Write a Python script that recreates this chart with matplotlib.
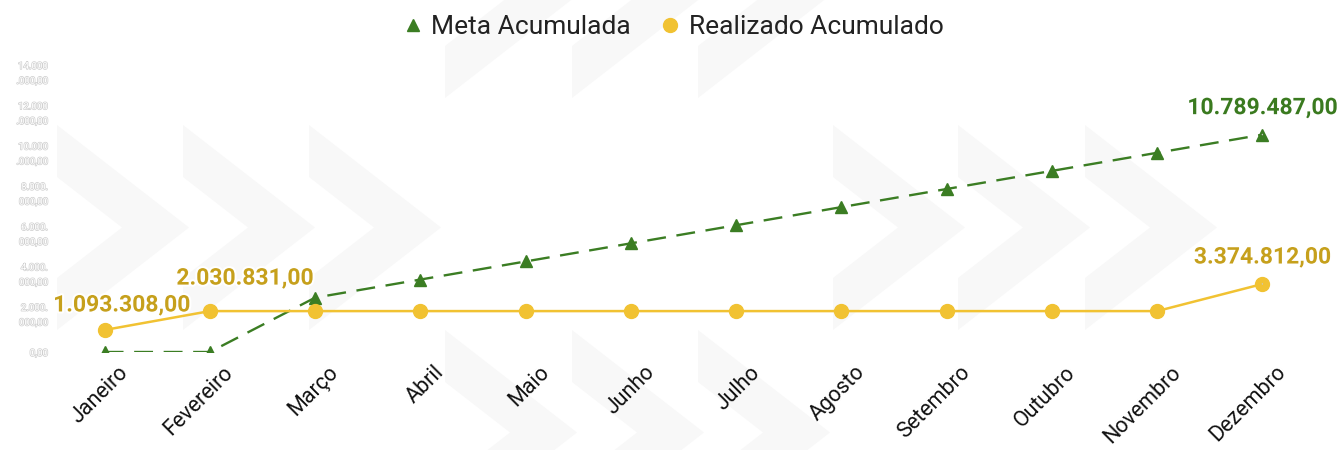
import matplotlib.pyplot as plt
import matplotlib.patheffects as pe
import matplotlib.transforms as mtrans
from matplotlib.lines import Line2D
from matplotlib.patches import Polygon
from matplotlib.ticker import FuncFormatter

plt.rcParams['font.family'] = ['Roboto', 'DejaVu Sans']

meses = ['Janeiro', 'Fevereiro', 'Março', 'Abril', 'Maio', 'Junho',
         'Julho', 'Agosto', 'Setembro', 'Outubro', 'Novembro', 'Dezembro']
meta = [0, 0, 2697372, 3596497, 4495620, 5394745, 6293870, 7192995,
        8092118, 8991240, 9890365, 10789487]
realizado = [1093308, 2030831, 2030831, 2030831, 2030831, 2030831,
             2030831, 2030831, 2030831, 2030831, 2030831, 3374812]
yticks = [0, 2000000, 4000000, 6000000, 8000000, 10000000, 12000000, 14000000]

# which points get a value label: (series, index, dx px, dy px, leader line)
rotulos = [('real', 0, 17, 25, False), ('real', 1, 35, 33, False),
           ('real', 11, 0, 27, True), ('meta', 11, 0, 27, True)]

VERDE = '#3b7d23'
AMARELO = '#f1c232'
TXT_VERDE = '#3a7a1f'
TXT_AMARELO = '#c6a01c'


def fmt_br(v, pos=None):
    s = f'{v:,.2f}'.replace(',', 'X').replace('.', ',').replace('X', '.')
    return s


def fmt_tick(v, pos=None):
    s = fmt_br(v)
    if v == 0:
        return s
    # wrapped like the original labels
    return s[:6] + '\n' + s[6:]


fig = plt.figure(figsize=(13.43, 4.5), dpi=100)

# faint chevron watermark
bg = fig.add_axes([0, 0, 1, 1], zorder=-1)
bg.set_xlim(0, 1343)
bg.set_ylim(450, 0)
bg.axis('off')


def chevron(x0, yt, yb):
    ym = (yt + yb) / 2
    return [(x0, yt), (x0 + 132, ym), (x0, yb), (x0, yb - 52),
            (x0 + 65, ym), (x0, yt + 52)]


for x0 in [57, 183, 309, 833, 958, 1085]:
    bg.add_patch(Polygon(chevron(x0, 125, 330), color='#f8f8f8', lw=0))
for x0 in [445, 572, 698]:
    bg.add_patch(Polygon(chevron(x0, -107, 98), color='#f8f8f8', lw=0))
    bg.add_patch(Polygon(chevron(x0, 330, 535), color='#f8f8f8', lw=0))

ax = fig.add_axes([52 / 1343, 98 / 450, 1263 / 1343, 282 / 450])
ax.set_facecolor('none')
x = list(range(len(meses)))

ax.plot(x, meta, color=VERDE, lw=1.7, dashes=(8, 4.5), marker='^', ms=8,
        zorder=3)
ax.plot(x, realizado, color=AMARELO, lw=1.8, marker='o', ms=10, zorder=4)

ax.set_xlim(-0.5, len(meses) - 0.5)
ax.set_ylim(0, 14000000)
ax.set_yticks(yticks)
ax.yaxis.set_major_formatter(FuncFormatter(fmt_tick))
ax.set_xticks(x)
ax.set_xticklabels(meses)
for s in ax.spines.values():
    s.set_visible(False)
ax.tick_params(axis='both', length=0)
ax.tick_params(axis='y', pad=3)
for lbl in ax.get_yticklabels():
    lbl.set_fontsize(7)
    lbl.set_color('white')
    lbl.set_linespacing(1.6)
    lbl.set_path_effects([pe.withStroke(linewidth=1.0, foreground='#cfcfcf')])

off = mtrans.ScaledTranslation(13 / 100, -5 / 100, fig.dpi_scale_trans)
for lbl in ax.get_xticklabels():
    lbl.set_fontsize(15.5)
    lbl.set_color('#111111')
    lbl.set_rotation(45)
    lbl.set_ha('right')
    lbl.set_va('top')
    lbl.set_rotation_mode('anchor')
    lbl.set_transform(lbl.get_transform() + off)

halo = [pe.withStroke(linewidth=3, foreground='white')]
for serie, i, dx, dy, linha in rotulos:
    vals = realizado if serie == 'real' else meta
    cor = TXT_AMARELO if serie == 'real' else TXT_VERDE
    props = dict(arrowstyle='-', color='#c8c8c8', lw=1, shrinkA=9,
                 shrinkB=7) if linha else None
    ax.annotate(fmt_br(vals[i]), (i, vals[i]), xytext=(dx, dy),
                textcoords='offset pixels', ha='center', va='center',
                fontsize=16.5, fontweight='bold', color=cor,
                path_effects=halo, arrowprops=props, zorder=5)

handles = [Line2D([], [], ls='none', marker='^', ms=8, color=VERDE),
           Line2D([], [], ls='none', marker='o', ms=10, color=AMARELO)]
fig.legend(handles, ['Meta Acumulada', 'Realizado Acumulado'],
           loc='upper center', bbox_to_anchor=(0.5, 1.02), ncol=2,
           frameon=False, fontsize=19, handletextpad=0.2,
           columnspacing=1.0, handlelength=1.0, labelcolor='#222222')

fig.savefig('out.png', dpi=100)
